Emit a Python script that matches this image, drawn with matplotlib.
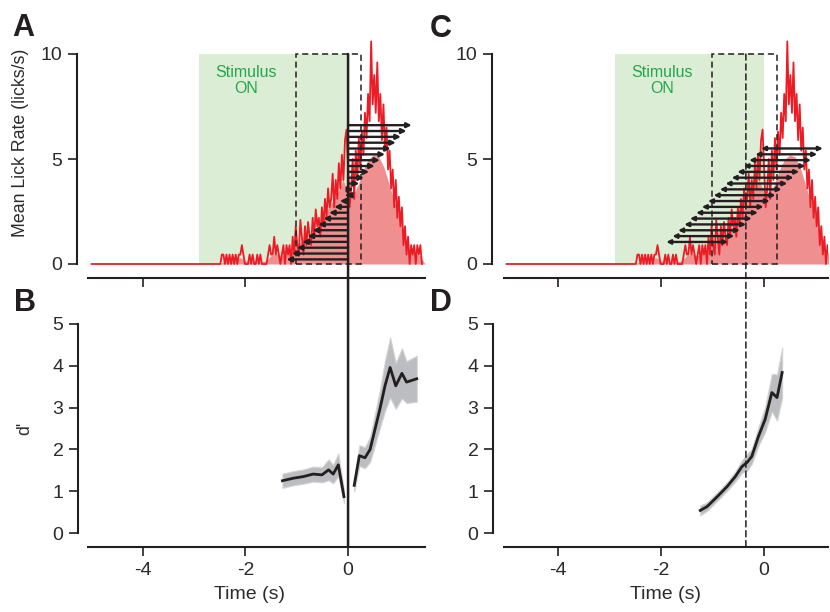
import numpy as np
import matplotlib
matplotlib.use("Agg")
import matplotlib.pyplot as plt
from matplotlib.patches import Rectangle, ConnectionPatch

plt.rcParams['font.family'] = ['Liberation Sans', 'DejaVu Sans']
plt.rcParams['axes.unicode_minus'] = False

# Mean lick rate histogram (licks/s), bins of 0.03 s starting at -2.49 s
RATE_START = -2.49
RATE_BIN = 0.03
lick_rate = [
    0, 0.45, 0.45, 0, 0.45, 0, 0.45, 0, 0.45, 0,
    0.45, 0, 0.45, 0.45, 0.9, 0.45, 0, 0, 0, 0.45,
    0, 0.45, 0, 0, 0.45, 0, 0.45, 0, 0, 0,
    0, 0.45, 0.9, 0.45, 0.45, 1.3, 0.45, 0.9, 0.45, 0,
    0.45, 0.9, 0, 0.9, 0.45, 0.9, 0, 1.3, 0.45, 1.8,
    0.9, 0.45, 2.1, 1.3, 0.45, 1.8, 0.9, 2.0, 1.3, 0.9,
    2.2, 1.3, 2.6, 1.8, 2.2, 1.3, 2.7, 1.8, 3.1, 2.2,
    3.6, 2.7, 3.1, 4.3, 2.7, 4.0, 3.1, 4.8, 3.6, 5.2,
    4.0, 5.9, 6.4, 4.5, 2.7, 3.6, 5.0, 3.1, 5.4, 4.0,
    6.0, 4.5, 6.3, 5.2, 7.2, 6.0, 8.1, 6.8, 10.6, 7.6,
    9.0, 7.2, 9.6, 6.8, 8.1, 5.9, 7.6, 5.4, 6.5, 4.5,
    5.4, 3.6, 4.5, 2.7, 4.0, 2.2, 3.2, 1.8, 2.7, 0.9,
    1.8, 0.45, 1.3, 0, 0.9, 0.45, 0.9, 0, 0.9, 0.45,
    0.9, 0,
]

# Smoothed lick rate (shaded area), bins of 0.1 s starting at -2.5 s
SMOOTH_START = -2.5
SMOOTH_BIN = 0.1
lick_rate_smooth = [
    0, 0.15, 0.15, 0.15, 0.3, 0.15, 0.1, 0.15, 0.1, 0.15,
    0.4, 0.5, 0.4, 0.5, 0.6, 0.9, 1.1, 1.2, 1.5, 1.8,
    2.0, 2.6, 3.0, 3.4, 4.0, 3.4, 3.3, 3.8, 4.5, 5.0,
    5.2, 5.1, 4.6, 3.8, 3.0, 2.2, 1.3, 0.6, 0.5, 0.4,
    0,
]

stim_on = (-2.9, 0.0)
analysis_window = (-1.02, 0.25)

# Panel A: growing windows ending at these times (s)
growing_ends = [-1.2, -1.09, -1.0, -0.89, -0.79, -0.69, -0.58, -0.48, -0.37, -0.27,
                -0.16, -0.04, 0.1, 0.22, 0.31, 0.41, 0.52, 0.62, 0.72, 0.83,
                0.93, 1.03, 1.14, 1.24]
# Panel C: sliding windows starting at these times (s), fixed length
sliding_starts = [-1.9, -1.78, -1.67, -1.55, -1.44, -1.32, -1.21, -1.09, -0.98, -0.86,
                  -0.75, -0.63, -0.52, -0.4, -0.29, -0.17, -0.06, 0.05]
SLIDING_LEN = 1.2
d_marker = -0.354

# Panel B: d' for growing windows (before / after lick onset)
b_pre_t = [-1.28, -1.07, -0.87, -0.68, -0.51, -0.38, -0.29, -0.19, -0.08]
b_pre_d = [1.25, 1.31, 1.35, 1.41, 1.39, 1.51, 1.41, 1.63, 0.87]
b_pre_sem = [0.17, 0.17, 0.17, 0.18, 0.18, 0.25, 0.22, 0.27, 0.15]
b_post_t = [0.12, 0.22, 0.33, 0.43, 0.62, 0.72, 0.82, 0.93, 1.05, 1.14, 1.34]
b_post_d = [1.14, 1.85, 1.8, 2.0, 2.96, 3.52, 3.96, 3.52, 3.82, 3.61, 3.69]
b_post_sem = [0.15, 0.25, 0.25, 0.3, 0.45, 0.6, 0.72, 0.55, 0.6, 0.5, 0.55]

# Panel D: d' for sliding windows
d_t = [-1.24, -1.11, -0.91, -0.72, -0.56, -0.43, -0.33, -0.24, -0.11, 0.02, 0.15, 0.25, 0.35]
d_d = [0.54, 0.63, 0.87, 1.11, 1.35, 1.59, 1.69, 1.83, 2.31, 2.72, 3.36, 3.24, 3.84]
d_sem = [0.12, 0.1, 0.1, 0.1, 0.12, 0.15, 0.2, 0.18, 0.22, 0.3, 0.45, 0.55, 0.6]

DARK = '#231f20'
RED = '#ed1c24'
PINK = '#f08f8f'
GREEN_BG = '#dcedd5'
GREEN_TXT = '#22a84a'
BAND = '#bcbdc0'

W, H = 830, 612
fig = plt.figure(figsize=(W / 100, H / 100), dpi=100)


def px_axes(left, top, right, bottom):
    return fig.add_axes([left / W, 1 - bottom / H, (right - left) / W, (bottom - top) / H])


def style_axes(ax, yticks, left_off, bottom_off):
    for s in ['top', 'right']:
        ax.spines[s].set_visible(False)
    for s in ['left', 'bottom']:
        ax.spines[s].set_linewidth(1.5)
        ax.spines[s].set_color(DARK)
    ax.spines['left'].set_position(('outward', left_off * 0.72))
    ax.spines['bottom'].set_position(('outward', bottom_off * 0.72))
    ax.spines['left'].set_bounds(yticks[0], yticks[-1])
    ax.set_yticks(yticks)
    ax.set_xticks([-4, -2, 0])
    ax.tick_params(direction='out', length=6.5, width=1.2, color=DARK,
                   labelsize=14, labelcolor='#2b2b2b', pad=4)
    ax.patch.set_visible(False)


t_rate = RATE_START + RATE_BIN * np.arange(len(lick_rate))
t_line = np.r_[-5.0, t_rate[0] - RATE_BIN, t_rate]
r_line = np.r_[0, 0, lick_rate]
t_smooth = SMOOTH_START + SMOOTH_BIN * np.arange(len(lick_rate_smooth))


def draw_rate(ax):
    ax.add_patch(Rectangle((stim_on[0], 0), stim_on[1] - stim_on[0], 10,
                           facecolor=GREEN_BG, edgecolor='none', zorder=0))
    ax.text(np.mean([stim_on[0], -1.06]), 8.75, 'Stimulus\nON', color=GREEN_TXT,
            ha='center', va='center', fontsize=11.5, linespacing=1.1)
    ax.fill_between(t_smooth, 0, lick_rate_smooth, color=PINK, lw=0, zorder=1)
    ax.plot(t_line, r_line, color=RED, lw=1.3, zorder=2)
    ax.add_patch(Rectangle((analysis_window[0], 0), analysis_window[1] - analysis_window[0], 10,
                           fill=False, edgecolor=DARK, lw=1.1, ls=(0, (4, 2.5)), zorder=3))


# Panel A
axA = px_axes(88, 39.3, 425, 266.1)
axA.set_xlim(-5.07, 1.5)
axA.set_ylim(-0.1, 10.7)
draw_rate(axA)
rows_a = np.linspace(0.22, 6.61, len(growing_ends))
for y, end in zip(rows_a, growing_ends):
    axA.annotate('', xy=(end, y), xytext=(0, y),
                 arrowprops=dict(arrowstyle='-|>', color=DARK, lw=1.7,
                                 mutation_scale=7, shrinkA=0, shrinkB=0), zorder=4)
style_axes(axA, [0, 5, 10], 11, 12)
axA.set_xticklabels([])
axA.set_ylabel('Mean Lick Rate (licks/s)', fontsize=12.8, color='#2b2b2b')
axA.yaxis.set_label_coords(-0.175, 0.543)

# Panel C
axC = px_axes(504, 39.3, 828, 266.1)
axC.set_xlim(-5.05, 1.24)
axC.set_ylim(-0.1, 10.7)
draw_rate(axC)
rows_c = np.linspace(1.05, 5.78, len(sliding_starts))
for y, st in zip(rows_c, sliding_starts):
    axC.annotate('', xy=(st + SLIDING_LEN, y), xytext=(st, y),
                 arrowprops=dict(arrowstyle='<|-|>', color=DARK, lw=1.7,
                                 mutation_scale=6, shrinkA=0, shrinkB=0), zorder=4)
style_axes(axC, [0, 5, 10], 12, 12)
axC.set_xticklabels([])


def draw_dprime(ax, t, d, sem):
    t, d, sem = np.array(t), np.array(d), np.array(sem)
    ax.fill_between(t, d - sem, d + sem, color=BAND, lw=0.8, edgecolor='#d4d4d6', zorder=1)
    ax.plot(t, d, color=DARK, lw=2.0, zorder=2)


# Panel B
axB = px_axes(88, 324, 425, 533)
axB.set_xlim(-5.07, 1.5)
axB.set_ylim(0, 5)
draw_dprime(axB, b_pre_t, b_pre_d, b_pre_sem)
draw_dprime(axB, b_post_t, b_post_d, b_post_sem)
style_axes(axB, [0, 1, 2, 3, 4, 5], 10, 14)
axB.set_ylabel("d'", fontsize=12.8, color='#2b2b2b')
axB.yaxis.set_label_coords(-0.163, 0.5)
axB.set_xlabel('Time (s)', fontsize=14, color='#2b2b2b', va='top')
axB.xaxis.set_label_coords(0.48, -0.255)

# Panel D
axD = px_axes(504, 324, 828, 533)
axD.set_xlim(-5.05, 1.24)
axD.set_ylim(0, 5)
draw_dprime(axD, d_t, d_d, d_sem)
style_axes(axD, [0, 1, 2, 3, 4, 5], 11, 14)
axD.set_xlabel('Time (s)', fontsize=14, color='#2b2b2b', va='top')
axD.xaxis.set_label_coords(0.5, -0.255)

# lines spanning top and bottom panels
line_ab = ConnectionPatch(xyA=(0, 10), coordsA=axA.transData,
                          xyB=(0, -14 / 209), coordsB=axB.get_xaxis_transform(),
                          color=DARK, lw=1.8, zorder=5)
fig.add_artist(line_ab)
line_cd = ConnectionPatch(xyA=(d_marker, 10), coordsA=axC.transData,
                          xyB=(d_marker, -14 / 209), coordsB=axD.get_xaxis_transform(),
                          color=DARK, lw=1.1, ls=(0, (4, 2.5)), zorder=5)
fig.add_artist(line_cd)

for lab, x, y in [('A', 12, 36), ('B', 14, 311), ('C', 430, 37), ('D', 430, 311)]:
    fig.text(x / W, 1 - y / H, lab, fontsize=22, fontweight='bold', color=DARK,
             ha='left', va='baseline')

fig.savefig('out.png', dpi=100)
